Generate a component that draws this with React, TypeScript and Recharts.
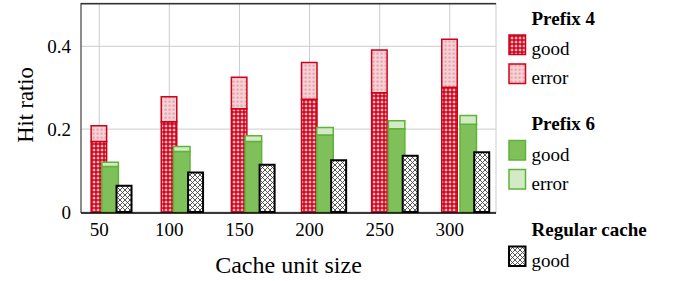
import React from 'react';
import { BarChart, Bar, XAxis, YAxis, CartesianGrid, Legend } from 'recharts';

const categories = [50, 100, 150, 200, 250, 300];
const prefix4Good = [0.170, 0.218, 0.249, 0.272, 0.288, 0.301];
const prefix4Error = [0.038, 0.060, 0.076, 0.089, 0.103, 0.116];
const prefix6Good = [0.110, 0.146, 0.170, 0.186, 0.201, 0.212];
const prefix6Error = [0.010, 0.012, 0.014, 0.018, 0.019, 0.021];
const regularGood = [0.063, 0.095, 0.114, 0.125, 0.136, 0.144];
const yTicks = [0, 0.2, 0.4];

const data = categories.map((c, i) => ({
  x: c,
  p4g: prefix4Good[i],
  p4e: prefix4Error[i],
  p6g: prefix6Good[i],
  p6e: prefix6Error[i],
  rg: regularGood[i],
}));

const FONT = '"Liberation Serif", "DejaVu Serif", serif';
const RED = '#d0021b';
const GREEN = '#5fb336';
const Y_DOMAIN: [number, number] = [-0.0025, 0.5045];

const legendGroups = [
  { title: 'Prefix 4', items: [{ label: 'good', fill: 'url(#p4g)', stroke: RED, sw: 1.5 }, { label: 'error', fill: 'url(#p4e)', stroke: RED, sw: 1.5 }] },
  { title: 'Prefix 6', items: [{ label: 'good', fill: '#7fc05b', stroke: GREEN, sw: 1.5 }, { label: 'error', fill: '#d3eac6', stroke: GREEN, sw: 1.5 }] },
  { title: 'Regular cache', items: [{ label: 'good', fill: 'url(#rgp)', stroke: '#000', sw: 2 }] },
];

const renderLegend = () => {
  const titleY = [24.5, 130, 236];
  const rowY = [[55, 84], [160.5, 189.5], [266.5]];
  return (
    <svg width={186} height={281} style={{ overflow: 'visible', display: 'block' }}>
      <line x1={-409} x2={6} y1={3.5} y2={3.5} stroke="#333" strokeWidth={1.2} />
      {legendGroups.map((g, gi) => (
        <g key={g.title}>
          <text x={41.5} y={titleY[gi]} fontFamily={FONT} fontSize={19} fontWeight="bold" fill="#000">{g.title}</text>
          {g.items.map((it, ii) => (
            <g key={ii}>
              <rect x={19} y={rowY[gi][ii] - 20} width={16.5} height={19.5} fill={it.fill} stroke={it.stroke} strokeWidth={it.sw} />
              <text x={41.5} y={rowY[gi][ii]} fontFamily={FONT} fontSize={19} fill="#000">{it.label}</text>
            </g>
          ))}
        </g>
      ))}
    </svg>
  );
};

const YLabel = () => (
  <text x={25} y={105} transform="rotate(-90 25 105)" textAnchor="middle" dominantBaseline="central" fontFamily={FONT} fontSize={22.5} fill="#000">Hit ratio</text>
);

export default function App() {
  return (
    <div style={{ position: 'absolute', left: 0, top: 0 }}>
      <BarChart width={676} height={281} data={data} margin={{ top: 3, right: 180, bottom: 0, left: 0 }}>
        <defs>
          <pattern id="p4g" patternUnits="userSpaceOnUse" width={4} height={4}>
            <rect width={4} height={4} fill="#d2061f" />
            <rect x={1.6} y={0.6} width={0.9} height={2.8} fill="#ffffff" />
            <rect x={0.6} y={1.6} width={2.8} height={0.9} fill="#ffffff" />
          </pattern>
          <pattern id="p4e" patternUnits="userSpaceOnUse" width={4} height={4}>
            <rect width={4} height={4} fill="#f6d2d6" />
            <rect x={0.4} y={0.4} width={2.4} height={2.4} rx={0.8} fill="#eba5ae" />
          </pattern>
          <pattern id="rgp" patternUnits="userSpaceOnUse" width={5} height={5}>
            <rect width={5} height={5} fill="#ffffff" />
            <path d="M0 0 L5 5 M5 0 L0 5" stroke="#444" strokeWidth={0.9} />
          </pattern>
        </defs>
        <CartesianGrid xAxisId="r" stroke="#cccccc" strokeWidth={1} />
        <CartesianGrid xAxisId="r" vertical={false} horizontalPoints={[4]} stroke="#333" strokeWidth={1.2} />
        <XAxis
          xAxisId="r"
          dataKey="x"
          type="number"
          domain={[37.02, 332.94]}
          allowDataOverflow
          ticks={categories}
          height={68}
          tickSize={0}
          tickMargin={10}
          axisLine={{ stroke: '#000', strokeWidth: 1.5 }}
          tickLine={false}
          tick={{ fontFamily: FONT, fontSize: 19, fill: '#000' }}
          label={{ value: 'Cache unit size', position: 'insideBottom', offset: 8, fontFamily: FONT, fontSize: 24, fill: '#000' }}
        />
        <XAxis xAxisId="g" dataKey="x" type="number" domain={[29.96, 319.69]} allowDataOverflow ticks={categories} height={0} hide />
        <XAxis xAxisId="b" dataKey="x" type="number" domain={[19.74, 309.79]} allowDataOverflow ticks={categories} height={0} hide />
        <YAxis
          type="number"
          domain={Y_DOMAIN}
          allowDataOverflow
          ticks={yTicks}
          width={81}
          tickSize={0}
          tickMargin={10}
          tickFormatter={(v: number) => (v === 0 ? '0' : String(v))}
          axisLine={{ stroke: '#333', strokeWidth: 1 }}
          tickLine={false}
          tick={{ fontFamily: FONT, fontSize: 19, fill: '#000' }}
          label={{ content: () => <YLabel /> }}
        />
        <YAxis
          yAxisId="right"
          orientation="right"
          type="number"
          domain={Y_DOMAIN}
          allowDataOverflow
          ticks={yTicks}
          width={0}
          mirror
          tickSize={6}
          axisLine={{ stroke: '#333', strokeWidth: 1 }}
          tickLine={{ stroke: '#888', strokeWidth: 1 }}
          tick={() => null}
        />
        <Legend
          layout="vertical"
          align="right"
          verticalAlign="top"
          content={renderLegend}
          wrapperStyle={{ position: 'absolute', left: 490, top: 0, width: 0, height: 0, overflow: 'visible' }}
        />
        <Bar xAxisId="r" dataKey="p4g" stackId="r" barSize={15.5} fill="url(#p4g)" stroke={RED} strokeWidth={1.5} isAnimationActive={false} />
        <Bar xAxisId="r" dataKey="p4e" stackId="r" barSize={15.5} fill="url(#p4e)" stroke={RED} strokeWidth={1.5} isAnimationActive={false} />
        <Bar xAxisId="g" dataKey="p6g" stackId="g" barSize={16.5} fill="#7fc05b" stroke={GREEN} strokeWidth={1.5} isAnimationActive={false} />
        <Bar xAxisId="g" dataKey="p6e" stackId="g" barSize={16.5} fill="#d3eac6" stroke={GREEN} strokeWidth={1.5} isAnimationActive={false} />
        <Bar xAxisId="b" dataKey="rg" barSize={15} fill="url(#rgp)" stroke="#000" strokeWidth={2} isAnimationActive={false} />
      </BarChart>
    </div>
  );
}
